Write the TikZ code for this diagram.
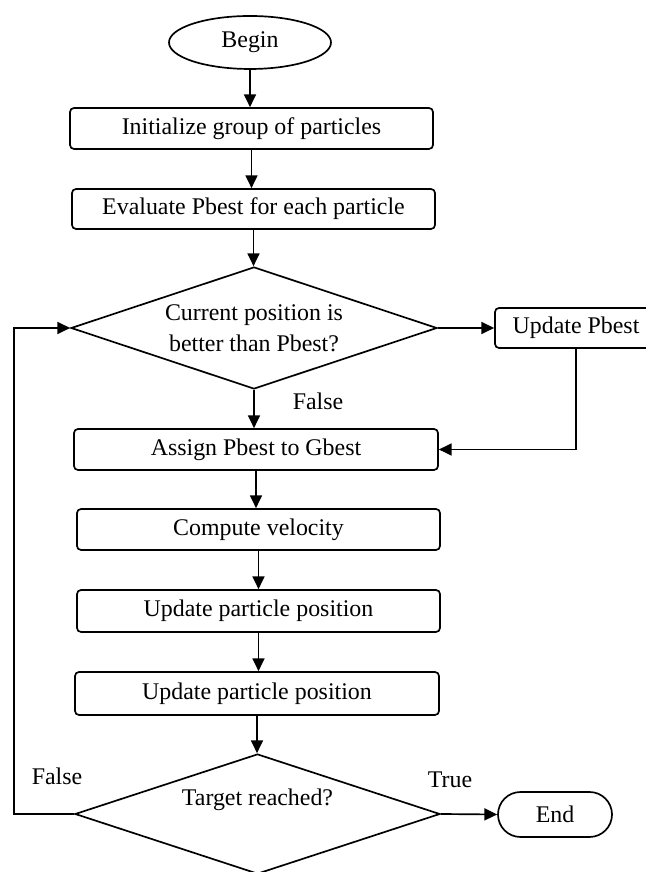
\documentclass[tikz,border=0pt]{standalone}
\usepackage{fontspec}
\setmainfont{Liberation Serif}
\usetikzlibrary{shapes.geometric}
\usetikzlibrary{shapes.misc}
\usetikzlibrary{arrows.meta}

\begin{document}
\begin{tikzpicture}[
  line width=1.2pt,
  every node/.style={font=\fontsize{17}{22}\selectfont},
  box/.style={rectangle,rounded corners=0.1cm,draw,minimum width=9.075cm,minimum height=1.025cm,inner sep=0pt},
  test/.style={diamond,draw,shape aspect=3,inner sep=0pt,align=center},
  arr/.style={-{Triangle[length=0.32cm,width=0.3cm]}}
]
\useasboundingbox (0,0) rectangle (16.15,21.8);

\node[ellipse,draw,minimum width=4.05cm,minimum height=1.325cm,inner sep=0pt] (begin) at (6.25,20.7375) {Begin};
\node[box] (init) at (6.2875,18.5875) {Initialize group of particles};
\node[box,minimum height=1cm] (eval) at (6.3375,16.575) {Evaluate Pbest for each particle};
\node[test,minimum width=9.15cm,minimum height=3.05cm] (better) at (6.35,13.6) {Current position is\\better than Pbest?};
\node[box,minimum width=4.05cm,minimum height=1cm] (pbest) at (14.4,13.6) {Update Pbest};
\node[box,minimum width=9.1cm] (assign) at (6.4,10.5625) {Assign Pbest to Gbest};
\node[box] (velocity) at (6.4625,8.5625) {Compute velocity};
\node[box,minimum height=1.05cm] (move) at (6.4625,6.525) {Update particle position};
\node[box,minimum width=9.1cm,minimum height=1.075cm] (move2) at (6.425,4.4625) {Update particle position};
\node[test,minimum width=9.125cm,minimum height=3cm,label={[yshift=0.35cm]center:Target reached?}] (target) at (6.4375,1.45) {};
\node[rounded rectangle,draw,minimum width=2.85cm,minimum height=1.125cm,inner sep=0pt] (end) at (13.875,1.4375) {End};

\node (no) at (7.95,11.775) {False};
\node (again) at (1.425,2.4) {False};
\node (yes) at (11.25,2.3) {True};
\coordinate (loop) at (0.35,1.45);

\draw[arr] (begin.south) -- (begin.south |- init.north);
\draw[arr] (init.south) -- (init.south |- eval.north);
\draw[arr] (eval.south) -- (eval.south |- better.north);
\draw[arr] (better.east) -- (pbest.west);
\draw[arr] (better.south) -- (better.south |- assign.north);
\draw[arr] (pbest.south) |- (assign.east);
\draw[arr] (assign.south) -- (assign.south |- velocity.north);
\draw[arr] (velocity.south) -- (velocity.south |- move.north);
\draw[arr] (move.south) -- (move.south |- move2.north);
\draw[arr] (move2.south) -- (move2.south |- target.north);
\draw[arr] (target.east) -- (end.west);
\draw[arr] (target.west) -- (loop) |- (better.west);

\end{tikzpicture}
\end{document}
